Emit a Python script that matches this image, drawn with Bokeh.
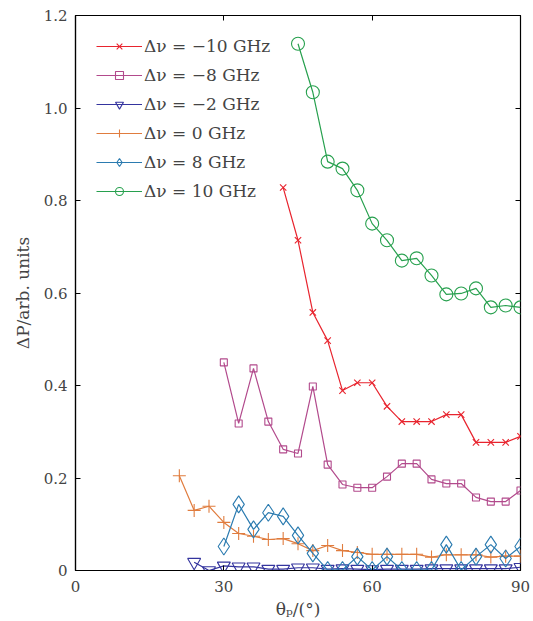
from bokeh.plotting import figure
from bokeh.models import LinearAxis, FixedTicker, Legend
from bokeh.embed import file_html
from bokeh.resources import INLINE

# Data
theta_m10 = [42, 45, 48, 51, 54, 57, 60, 63, 66, 69, 72, 75, 78, 81, 84, 87, 90]
dp_m10 = [0.828, 0.714, 0.558, 0.497, 0.389, 0.406, 0.406, 0.355, 0.322, 0.322,
          0.322, 0.337, 0.337, 0.277, 0.277, 0.277, 0.290]

theta_m8 = [30, 33, 36, 39, 42, 45, 48, 51, 54, 57, 60, 63, 66, 69, 72, 75, 78, 81, 84, 87, 90]
dp_m8 = [0.450, 0.318, 0.437, 0.322, 0.262, 0.253, 0.398, 0.229, 0.186, 0.179, 0.179,
         0.203, 0.231, 0.231, 0.197, 0.188, 0.188, 0.158, 0.149, 0.149, 0.173]

theta_m2 = [24, 27, 30, 33, 36, 39, 42, 45, 48, 51, 54, 57, 60, 63, 66, 69, 72, 75, 78, 81, 84, 87, 90]
dp_m2 = [0.018, 0.000, 0.010, 0.008, 0.008, 0.003, 0.003, 0.006, 0.006, 0.003, 0.004, 0.003,
         0.002, 0.003, 0.003, 0.003, 0.004, 0.004, 0.004, 0.004, 0.004, 0.004, 0.007]

theta_0 = [21, 24, 27, 30, 33, 36, 39, 42, 45, 48, 51, 54, 57, 60, 63, 66, 69, 72, 75, 78, 81, 84, 87, 90]
dp_0 = [0.205, 0.130, 0.139, 0.104, 0.080, 0.074, 0.067, 0.069, 0.058, 0.043, 0.054, 0.043,
        0.039, 0.035, 0.035, 0.035, 0.035, 0.029, 0.034, 0.034, 0.034, 0.029, 0.031, 0.031]

theta_8 = [30, 33, 36, 39, 42, 45, 48, 51, 54, 57, 60, 63, 66, 69, 72, 75, 78, 81, 84, 87, 90]
dp_8 = [0.052, 0.143, 0.089, 0.125, 0.117, 0.076, 0.037, 0.001, 0.001, 0.030, 0.001,
        0.030, 0.001, 0.001, 0.001, 0.056, 0.001, 0.030, 0.056, 0.026, 0.052]

theta_10 = [45, 48, 51, 54, 57, 60, 63, 66, 69, 72, 75, 78, 81, 84, 87, 90]
dp_10 = [1.139, 1.034, 0.884, 0.869, 0.822, 0.750, 0.714, 0.670, 0.675, 0.638,
         0.597, 0.599, 0.610, 0.569, 0.573, 0.569]

labels = ["Δν = −10 GHz", "Δν = −8 GHz", "Δν = −2 GHz",
          "Δν = 0 GHz", "Δν = 8 GHz", "Δν = 10 GHz"]
x_ticks = [0, 30, 60, 90]
y_ticks = [0, 0.2, 0.4, 0.6, 0.8, 1.0, 1.2]

SERIF = "DejaVu Serif"

p = figure(width=533, height=621, x_range=(0, 90), y_range=(0, 1.2),
           output_backend="svg", toolbar_location=None,
           min_border_left=75, min_border_right=13, min_border_top=15, min_border_bottom=51)
p.grid.visible = False
p.outline_line_color = "black"
p.outline_line_width = 1.2
p.background_fill_color = "white"

series = [
    (theta_m10, dp_m10, "#e8242e", "x", 9, labels[0]),
    (theta_m8, dp_m8, "#b24a8c", "square", 7, labels[1]),
    (theta_m2, dp_m2, "#34349e", "inverted_triangle", 13, labels[2]),
    (theta_0, dp_0, "#e07c3e", "cross", 13, labels[3]),
    (theta_8, dp_8, "#2b7bb0", "diamond", 17, labels[4]),
    (theta_10, dp_10, "#27a04e", "circle", 13, labels[5]),
]

items = []
for xs, ys, col, mk, sz, lab in series:
    r1 = p.line(xs, ys, line_color=col, line_width=1.2)
    r2 = p.scatter(xs, ys, marker=mk, size=sz, line_color=col, fill_color=None, line_width=1.1)
    items.append((lab, [r1, r2]))

legend = Legend(items=items, location="top_left")
legend.border_line_color = None
legend.background_fill_alpha = 0
legend.margin = 21
legend.padding = 10
legend.glyph_width = 46
legend.glyph_height = 20
legend.label_height = 20
legend.spacing = 9
legend.label_standoff = 2
legend.label_text_font = SERIF
legend.label_text_font_size = "17px"
p.add_layout(legend)

for ax in (p.xaxis[0], p.yaxis[0]):
    ax.major_tick_in = 5
    ax.major_tick_out = 0
    ax.minor_tick_line_color = None
    ax.axis_line_width = 1.2
    ax.major_label_text_font = SERIF
    ax.major_label_text_font_size = "15px"
    ax.axis_label_text_font = SERIF
    ax.axis_label_text_font_size = "17px"
    ax.axis_label_text_font_style = "normal"

p.xaxis[0].ticker = FixedTicker(ticks=x_ticks)
p.yaxis[0].ticker = FixedTicker(ticks=y_ticks)
p.yaxis[0].major_label_overrides = {0: "0", 1: "1.0"}
p.xaxis[0].axis_label = "θₚ/(°)"
p.yaxis[0].axis_label = "ΔP/arb. units"
p.xaxis[0].axis_label_standoff = 4
p.yaxis[0].axis_label_standoff = 8
p.xaxis[0].major_label_standoff = 10
p.yaxis[0].major_label_standoff = 8

for loc, ticks in (("right", y_ticks), ("above", x_ticks)):
    ax = LinearAxis(ticker=FixedTicker(ticks=ticks))
    ax.major_tick_in = 5
    ax.major_tick_out = 0
    ax.minor_tick_line_color = None
    ax.major_label_text_font_size = "0px"
    ax.major_label_text_alpha = 0
    ax.major_label_standoff = 0
    ax.axis_line_color = None
    p.add_layout(ax, loc)

open("out.html", "w").write(file_html(p, INLINE))
